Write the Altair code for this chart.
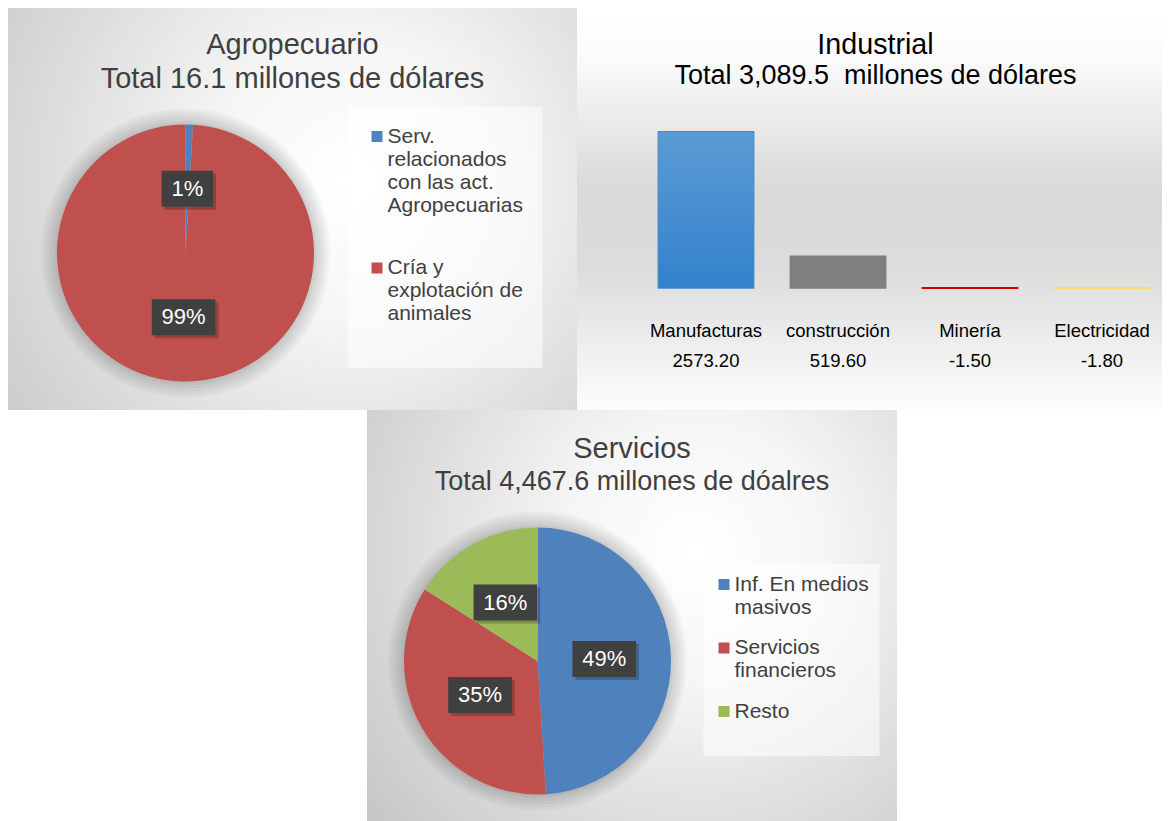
import altair as alt
import pandas as pd

FONT = "Liberation Sans"

# ---------------- data ----------------
agro_title = "Agropecuario"
agro_sub = "Total 16.1 millones de dólares"
agro_cats = ["Serv.\nrelacionados\ncon las act.\nAgropecuarias", "Cría y\nexplotación de\nanimales"]
agro_vals = [0.15, 15.95]
agro_colors = ["#4f81bd", "#c0504d"]

ind_title = "Industrial"
ind_sub = "Total 3,089.5\u00a0 millones de dólares"
ind_cats = ["Manufacturas", "construcción", "Minería", "Electricidad"]
ind_vals = [2573.20, 519.60, -1.50, -1.80]
ind_colors = ["#3f8ad3", "#7f7f7f", "#d00000", "#ffd966"]

serv_title = "Servicios"
serv_sub = "Total 4,467.6 millones de dóalres"
serv_cats = ["Inf. En medios\nmasivos", "Servicios\nfinancieros", "Resto"]
serv_vals = [2189.1, 1563.7, 714.8]
serv_colors = ["#4f81bd", "#c0504d", "#9bbb59"]

ONE = pd.DataFrame({"k": [0]})


def radial_bg(cx, cy, r2):
    return alt.RadialGradient(
        gradient="radial", x1=cx, y1=cy, r1=0, x2=cx, y2=cy, r2=r2,
        stops=[alt.GradientStop(offset=0, color="#ffffff"),
               alt.GradientStop(offset=0.3, color="#f6f6f6"),
               alt.GradientStop(offset=0.7, color="#dadada"),
               alt.GradientStop(offset=1, color="#c6c6c6")])


def pie_panel(cats, vals, colors, title, sub, W, H, CX, CY, R, LX, LY,
              rowpad, lpad, tpad, gcx, gcy, t_size, sub_size, title_offset):
    df = pd.DataFrame({"cat": cats, "val": vals, "ord": list(range(len(cats)))})
    bg = alt.Chart(ONE).mark_rect(fill=radial_bg(gcx, gcy, 0.8)).encode(
        x=alt.value(0), x2=alt.value("width"), y=alt.value(0), y2=alt.value("height"))
    halos = [
        alt.Chart(ONE).mark_arc(radius=R + k, theta=0, theta2=6.2832, color="#000000",
                                opacity=0.03).encode(x=alt.value(CX), y=alt.value(CY))
        for k in (2, 4, 7, 10, 13, 16)
    ]
    pie = alt.Chart(df).mark_arc(radius=R).encode(
        theta=alt.Theta("val:Q", stack=True),
        order=alt.Order("ord:Q"),
        color=alt.Color("cat:N", scale=alt.Scale(domain=cats, range=colors),
                        legend=alt.Legend(
                            orient="none", legendX=LX, legendY=LY,
                            title=" ", titleOrient="bottom", titleFontSize=10,
                            titlePadding=tpad,
                            labelExpr="split(datum.label, '\\n')",
                            labelFont=FONT, labelFontSize=21, labelColor="#404040",
                            labelLimit=400, labelOffset=0,
                            symbolType="square", symbolSize=121, symbolStrokeWidth=0,
                            rowPadding=rowpad, padding=lpad,
                            fillColor="rgba(255,255,255,0.55)")),
        x=alt.value(CX), y=alt.value(CY))
    LR = R * 0.5
    lab = (alt.Chart(df)
           .transform_joinaggregate(total="sum(val)")
           .transform_window(cum="sum(val)", sort=[alt.SortField("ord")], frame=[None, 0])
           .transform_calculate(mid="(datum.cum - datum.val/2) / datum.total * 2 * PI")
           .transform_calculate(lx=f"{CX} + {LR} * sin(datum.mid)")
           .transform_calculate(ly=f"{CY} - {LR} * cos(datum.mid)")
           .transform_calculate(pct="format(datum.val / datum.total, '.0%')")
           .transform_calculate(bw="12.2 * length(datum.pct) + 27")
           .transform_calculate(bx1="datum.lx - datum.bw / 2", bx2="datum.lx + datum.bw / 2",
                                by1="datum.ly - 18", by2="datum.ly + 18"))
    shadow = lab.mark_rect(color="#000000", opacity=0.22, xOffset=3, yOffset=3,
                           x2Offset=3, y2Offset=3).encode(
        x=alt.X("bx1:Q", scale=None, axis=None), x2="bx2:Q",
        y=alt.Y("by1:Q", scale=None, axis=None), y2="by2:Q")
    box = lab.mark_rect(color="#404040").encode(
        x=alt.X("bx1:Q", scale=None, axis=None), x2="bx2:Q",
        y=alt.Y("by1:Q", scale=None, axis=None), y2="by2:Q")
    txt = lab.mark_text(color="#ffffff", font=FONT, fontSize=22, align="center",
                        baseline="middle").encode(
        x=alt.X("lx:Q", scale=None, axis=None),
        y=alt.Y("ly:Q", scale=None, axis=None),
        text="pct:N")
    return alt.layer(bg, *halos, pie, shadow, box, txt).properties(
        width=W, height=H,
        title=alt.TitleParams(text=title, subtitle=sub, font=FONT, subtitleFont=FONT,
                              fontSize=t_size, subtitleFontSize=sub_size, fontWeight="normal",
                              color="#404040", subtitleColor="#404040",
                              anchor="middle", frame="group", offset=title_offset,
                              subtitlePadding=5))


p1 = pie_panel(agro_cats, agro_vals, agro_colors, agro_title, agro_sub,
               W=569, H=402, CX=177.5, CY=245, R=128.5, LX=339.5, LY=99,
               rowpad=40.5, lpad=19, tpad=15, gcx=0.6, gcy=0.45, t_size=29, sub_size=29,
               title_offset=-85.5)

p3 = pie_panel(serv_cats, serv_vals, serv_colors, serv_title, serv_sub,
               W=530, H=411, CX=170.5, CY=251, R=133.5, LX=336.5, LY=154,
               rowpad=18.5, lpad=10, tpad=14, gcx=0.62, gcy=0.38, t_size=29, sub_size=27,
               title_offset=-84.5)

# ---------------- industrial bar panel ----------------
bdf = pd.DataFrame({"cat": ind_cats, "val": ind_vals})
bbase = alt.Chart(bdf).transform_calculate(
    lab="datum.cat + '|' + (datum.val < 0 ? '-' : '') + format(abs(datum.val), '.2f')")
xenc = alt.X("lab:N", sort=None,
             scale=alt.Scale(range=[63, 591], paddingInner=0.28, paddingOuter=0.14),
             axis=alt.Axis(title=None, orient="bottom", offset=-122, domain=False,
                           ticks=False, tickSize=0, labelPadding=33, zindex=2,
                           labelExpr="split(datum.label, '|')", labelFont=FONT,
                           labelFontSize=18.5, labelColor="#000000", labelLineHeight=30,
                           labelAngle=0, labelLimit=300, grid=False))
yenc = alt.Y("val:Q", scale=alt.Scale(range=[280, 124], nice=False, zero=True), axis=None)

bg2 = alt.Chart(ONE).mark_rect(fill=alt.LinearGradient(
    gradient="linear", x1=0, x2=0, y1=0, y2=1,
    stops=[alt.GradientStop(offset=0, color="#ffffff"),
           alt.GradientStop(offset=0.12, color="#fbfbfb"),
           alt.GradientStop(offset=0.45, color="#d9d9d9"),
           alt.GradientStop(offset=0.65, color="#dcdcdc"),
           alt.GradientStop(offset=1, color="#fdfdfd")])).encode(
    x=alt.value(0), x2=alt.value("width"), y=alt.value(0), y2=alt.value("height"))

bars = bbase.mark_bar(strokeWidth=1.8).encode(
    x=xenc, y=yenc,
    fill=alt.Fill("cat:N", scale=alt.Scale(domain=ind_cats, range=ind_colors), legend=None),
    stroke=alt.Stroke("cat:N", scale=alt.Scale(domain=ind_cats, range=ind_colors), legend=None))

grad_bar = bbase.mark_bar(fill=alt.LinearGradient(
    gradient="linear", x1=0, x2=0, y1=0, y2=1,
    stops=[alt.GradientStop(offset=0, color="#5b9bd5"),
           alt.GradientStop(offset=1, color="#3382cc")])).encode(
    x=xenc, y=yenc,
    opacity=alt.condition("datum.cat == 'Manufacturas'", alt.value(1), alt.value(0)))

p2 = alt.layer(bg2, bars, grad_bar).properties(
    width=585, height=402,
    title=alt.TitleParams(text=ind_title, subtitle=ind_sub, font=FONT, subtitleFont=FONT,
                          fontSize=28.7, subtitleFontSize=27, fontWeight="normal",
                          color="#000000", subtitleColor="#000000", anchor="middle",
                          frame="group", offset=-81, dx=6, subtitlePadding=3))

spacer = alt.Chart(ONE).mark_point(opacity=0, size=0, strokeWidth=0).encode(
    x=alt.value(100), y=alt.value(100)).properties(width=359, height=411)

top = alt.hconcat(p1, p2, spacing=0).resolve_scale(color="independent", fill="independent",
                                                   stroke="independent")
bottom = alt.hconcat(spacer, p3, spacing=0).resolve_scale(color="independent")

chart = (alt.vconcat(top, bottom, spacing=0)
         .resolve_scale(color="independent", fill="independent", stroke="independent")
         .properties(padding={"left": 0, "top": 0, "right": 0, "bottom": 0},
                     background="#ffffff")
         .configure(font=FONT)
         .configure_view(strokeWidth=0, stroke="transparent"))

chart.save("out.html", embed_options={"renderer": "svg", "actions": False})
